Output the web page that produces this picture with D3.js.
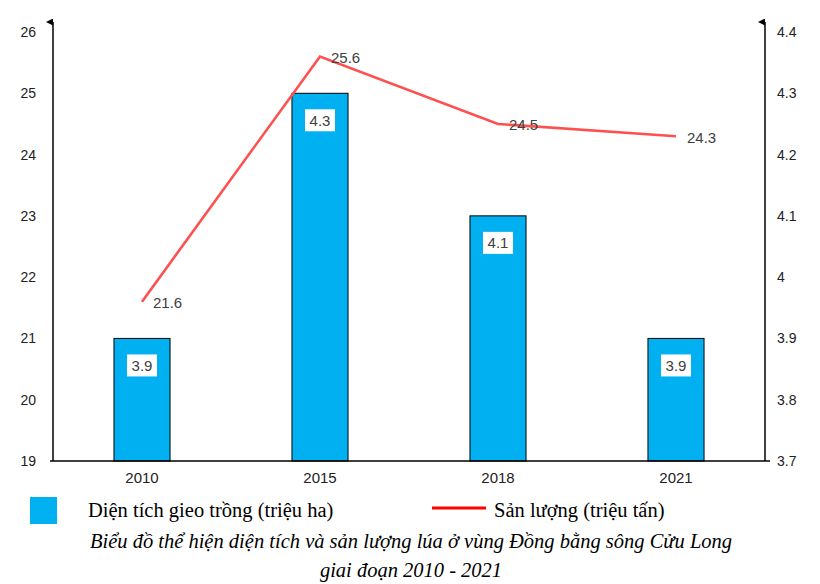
<!DOCTYPE html>
<html>
<head>
<meta charset="utf-8">
<script src="https://cdn.jsdelivr.net/npm/d3@7"></script>
<style>
  body { margin: 0; background: #fff; }
  svg { display: block; }
</style>
</head>
<body>
<div id="chart"></div>
<script>
// data
const years = ['2010', '2015', '2018', '2021'];
const dienTich = [3.9, 4.3, 4.1, 3.9];     // bars, right axis (triệu ha)
const sanLuong = [21.6, 25.6, 24.5, 24.3]; // line, left axis (triệu tấn)
const leftTicks = [19, 20, 21, 22, 23, 24, 25, 26];
const rightTicks = [3.7, 3.8, 3.9, 4.0, 4.1, 4.2, 4.3, 4.4];

const width = 820, height = 584;
const plotL = 53, plotR = 765, plotT = 32, plotB = 461;

const svg = d3.select('#chart').append('svg')
  .attr('width', width)
  .attr('height', height);

const x = d3.scaleBand().domain(years).range([plotL, plotR]);
const yL = d3.scaleLinear().domain([19, 26]).range([plotB, plotT]);
const yR = d3.scaleLinear().domain([3.7, 4.4]).range([plotB, plotT]);
const barW = x.bandwidth() * 0.315;
const cx = d => x(d) + x.bandwidth() / 2;
const sans = 'Liberation Sans, Arial, sans-serif';

// arrow marker
svg.append('defs').append('marker')
  .attr('id', 'arrow')
  .attr('viewBox', '0 0 10 10')
  .attr('refX', 5).attr('refY', 10)
  .attr('markerWidth', 7).attr('markerHeight', 9)
  .attr('markerUnits', 'userSpaceOnUse')
  .attr('orient', 'auto-start-reverse')
  .append('path')
  .attr('d', 'M0,10 L5,0 L10,10 Z')
  .attr('fill', '#000');

// bars
svg.selectAll('rect.bar')
  .data(years)
  .enter().append('rect')
  .attr('class', 'bar')
  .attr('x', d => cx(d) - barW / 2)
  .attr('y', (d, i) => yR(dienTich[i]))
  .attr('width', barW)
  .attr('height', (d, i) => plotB - yR(dienTich[i]))
  .attr('fill', '#00B0F0')
  .attr('stroke', '#000')
  .attr('stroke-width', 1);

// bar labels
const bl = svg.selectAll('g.blabel')
  .data(years)
  .enter().append('g')
  .attr('transform', (d, i) => `translate(${cx(d)}, ${yR(dienTich[i]) + 27})`);
bl.append('rect')
  .attr('x', -15).attr('y', -11)
  .attr('width', 30).attr('height', 22)
  .attr('fill', '#fff');
bl.append('text')
  .attr('text-anchor', 'middle')
  .attr('dy', '0.36em')
  .attr('font-family', sans)
  .attr('font-size', '15px')
  .attr('fill', '#404040')
  .text((d, i) => dienTich[i]);

// axes
const axisFont = size => g => g.selectAll('text')
  .attr('font-family', sans)
  .attr('font-size', size)
  .attr('fill', '#222');

svg.append('g')
  .attr('transform', `translate(${plotL},0)`)
  .call(d3.axisLeft(yL).tickValues(leftTicks).tickSize(0).tickPadding(17).tickFormat(d3.format('d')))
  .call(g => g.select('.domain').remove())
  .call(axisFont('14px'));

svg.append('g')
  .attr('transform', `translate(${plotR},0)`)
  .call(d3.axisRight(yR).tickValues(rightTicks).tickSize(0).tickPadding(12).tickFormat(d => d === 4 ? '4' : d3.format('.1f')(d)))
  .call(g => g.select('.domain').remove())
  .call(axisFont('14px'));

svg.append('g')
  .attr('transform', `translate(0,${plotB})`)
  .call(d3.axisBottom(x).tickSize(0).tickPadding(11))
  .call(g => g.select('.domain').remove())
  .call(axisFont('15px'));

// axis lines
svg.append('line')
  .attr('x1', plotL - 3).attr('x2', plotR + 5)
  .attr('y1', plotB).attr('y2', plotB)
  .attr('stroke', '#000').attr('stroke-width', 1.5);
[plotL, plotR].forEach(xx => {
  svg.append('line')
    .attr('x1', xx).attr('x2', xx)
    .attr('y1', plotB).attr('y2', 22)
    .attr('stroke', '#000').attr('stroke-width', 1.5)
    .attr('marker-end', 'url(#arrow)');
});

// line
const line = d3.line()
  .x(d => cx(d.year))
  .y(d => yL(d.value));
const lineData = years.map((y, i) => ({ year: y, value: sanLuong[i] }));

svg.append('path')
  .datum(lineData)
  .attr('d', line)
  .attr('fill', 'none')
  .attr('stroke', '#FF5050')
  .attr('stroke-width', 2.6);

svg.selectAll('text.llabel')
  .data(lineData)
  .enter().append('text')
  .attr('x', d => cx(d.year) + 11)
  .attr('y', d => yL(d.value) + 1)
  .attr('dy', '0.36em')
  .attr('font-family', sans)
  .attr('font-size', '15px')
  .attr('fill', '#404040')
  .text(d => d.value);

// legend
const serif = 'Liberation Serif, Times New Roman, serif';
svg.append('rect')
  .attr('x', 30).attr('y', 497)
  .attr('width', 27).attr('height', 27)
  .attr('fill', '#00B0F0');
svg.append('text')
  .attr('x', 88).attr('y', 517)
  .attr('font-family', serif).attr('font-size', '20.5px')
  .attr('fill', '#000')
  .text('Diện tích gieo trồng (triệu ha)');
svg.append('line')
  .attr('x1', 432).attr('x2', 486)
  .attr('y1', 508).attr('y2', 508)
  .attr('stroke', '#FF0000').attr('stroke-width', 3);
svg.append('text')
  .attr('x', 494).attr('y', 517)
  .attr('font-family', serif).attr('font-size', '20.5px')
  .attr('fill', '#000')
  .text('Sản lượng (triệu tấn)');

// caption
svg.append('text')
  .attr('x', 411).attr('y', 548)
  .attr('text-anchor', 'middle')
  .attr('font-family', serif).attr('font-size', '20.5px')
  .attr('font-style', 'italic')
  .text('Biểu đồ thể hiện diện tích và sản lượng lúa ở vùng Đồng bằng sông Cửu Long');
svg.append('text')
  .attr('x', 411).attr('y', 577)
  .attr('text-anchor', 'middle')
  .attr('font-family', serif).attr('font-size', '20.5px')
  .attr('font-style', 'italic')
  .text('giai đoạn 2010 - 2021');
</script>
</body>
</html>
